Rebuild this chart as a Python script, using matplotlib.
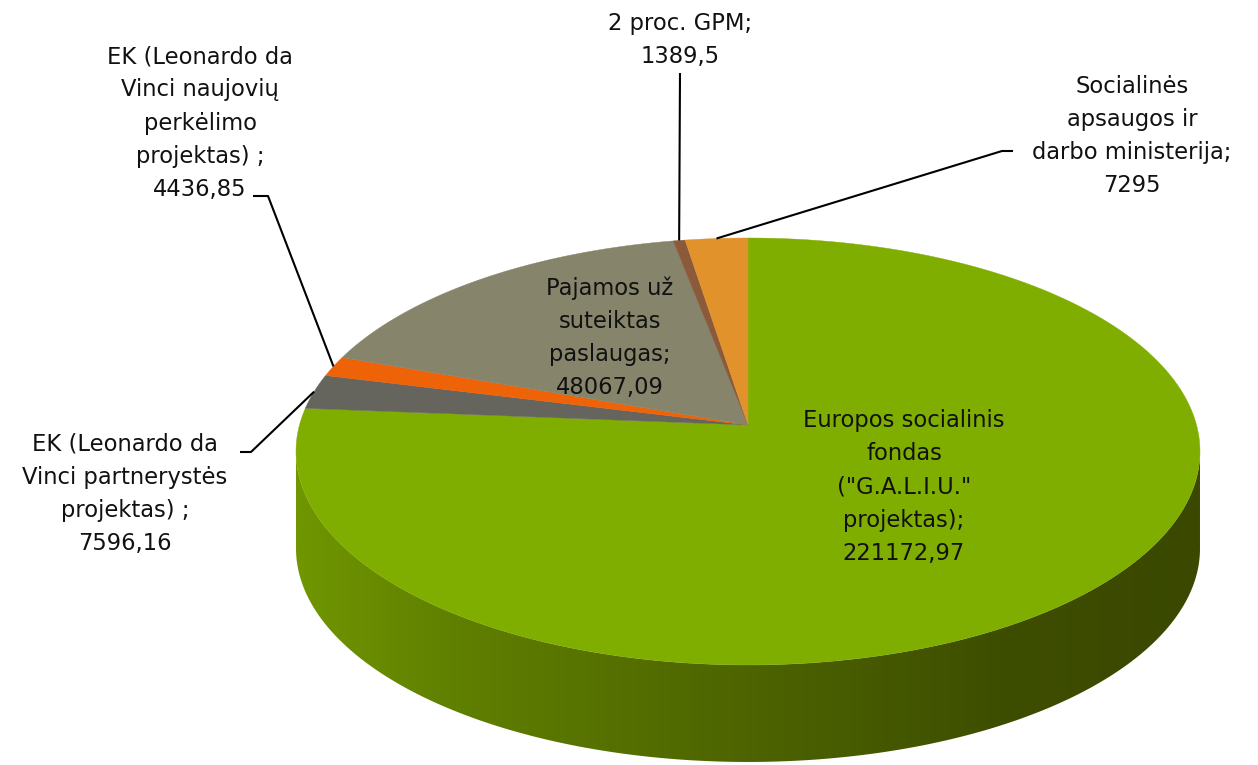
import numpy as np
import matplotlib.pyplot as plt
from matplotlib.patches import Polygon

# Data
labels = [
    'Europos socialinis\nfondas\n("G.A.L.I.U."\nprojektas);\n221172,97',
    "EK (Leonardo da\nVinci partnerystės\nprojektas) ;\n7596,16",
    "EK (Leonardo da\nVinci naujovių\nperkėlimo\nprojektas) ;\n4436,85",
    "Pajamos už\nsuteiktas\npaslaugas;\n48067,09",
    "2 proc. GPM;\n1389,5",
    "Socialinės\napsaugos ir\ndarbo ministerija;\n7295",
]
values = [221172.97, 7596.16, 4436.85, 48067.09, 1389.5, 7295]
colors = ["#80ae00", "#65655d", "#ee6208", "#86846a", "#8a5a3a", "#e2922a"]

# Label layout: text centre, leader elbow points (None = label inside the slice)
text_pos = [(904, 487), (125, 494), (200, 123), (610, 338), (680, 40), (1132, 136)]
elbows = [None, [(251, 452), (240, 452)], [(268, 196), (253, 196)], None,
          [(680, 73)], [(1002, 151), (1013, 151)]]

# Pie geometry in pixels (perspective projection of a disc)
cx, cy = 748, 425
A, B, k = 448.5, 210.2, 0.124
depth = 97


def proj(theta_deg, dy=0.0):
    t = np.radians(theta_deg)
    u, v = np.cos(t), np.sin(t)
    d = 1 + k * v
    return cx + A * u / d, cy - B * v / d + dy


fig = plt.figure(figsize=(12.58, 7.65), dpi=100)
ax = fig.add_axes([0, 0, 1, 1])

# Side wall (front half), shaded left to right
th_l = 180 + np.degrees(np.arcsin(k))
th_r = 360 - np.degrees(np.arcsin(k))
ths = np.linspace(th_l, th_r, 300)
side_pts = [proj(a) for a in ths] + [proj(a, depth) for a in ths[::-1]]
side = Polygon(side_pts, closed=True, fc="none", ec="none")
ax.add_patch(side)

shade_x = [297, 450, 700, 1000, 1200]
shade_rgb = np.array([[112, 150, 0], [96, 128, 0], [80, 104, 0], [62, 78, 0], [58, 72, 0]]) / 255
gx = np.linspace(290, 1210, 600)
grad = np.stack([np.interp(gx, shade_x, shade_rgb[:, j]) for j in range(3)], axis=-1)[None, :, :]
img = ax.imshow(grad, extent=(290, 1210, 780, 420), aspect="auto", interpolation="bilinear")
img.set_clip_path(side)

# Top face wedges, clockwise from 12 o'clock
total = sum(values)
start = 90.0
mids = []
for val, col in zip(values, colors):
    sweep = val / total * 360
    end = start - sweep
    arc = np.linspace(start, end, max(int(sweep * 2), 4))
    pts = [(cx, cy)] + [proj(a) for a in arc]
    ax.add_patch(Polygon(pts, closed=True, fc=col, ec=col, lw=0.3))
    mids.append((start + end) / 2)
    start = end

# Labels and leader lines
font = dict(family="DejaVu Sans", fontsize=16.3, color="#111111",
            ha="center", va="center", linespacing=1.56)
for lab, pos, elb, mid in zip(labels, text_pos, elbows, mids):
    ax.text(pos[0], pos[1], lab, **font)
    if elb is not None:
        anchor = proj(mid)
        line = [anchor] + elb
        ax.plot([p[0] for p in line], [p[1] for p in line],
                color="black", lw=1.5, solid_capstyle="butt")

ax.set_xlim(0, 1258)
ax.set_ylim(765, 0)
ax.axis("off")

fig.savefig("out.png", dpi=100)
